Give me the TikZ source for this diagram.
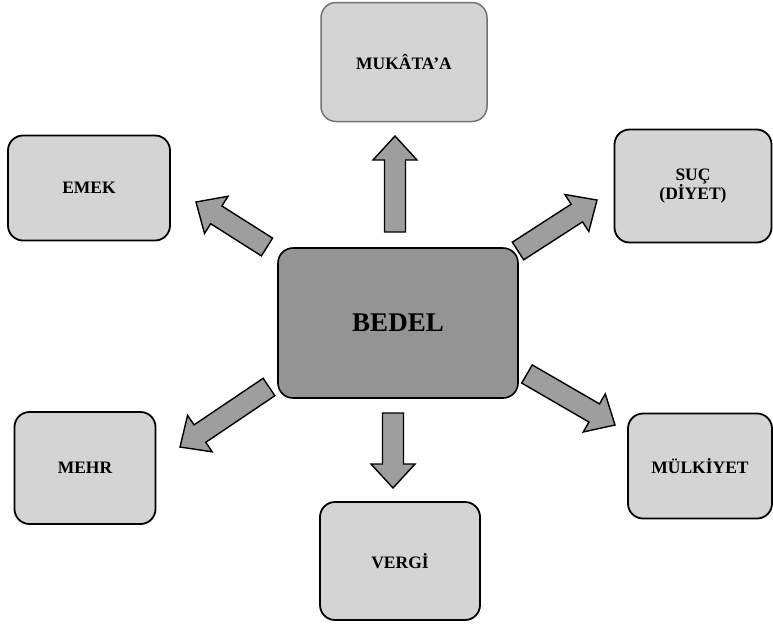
\documentclass[tikz,border=0pt]{standalone}
\usepackage{fontspec}
\setmainfont{Liberation Serif}
\usetikzlibrary{calc}
\def\blockarrow(#1)(#2){\coordinate (ah) at ($(#2)!24pt!(#1)$);
	\draw[blockarrow] ($(#1)!10.5pt!90:(#2)$) -- ($(ah)!10.5pt!90:(#2)$) -- ($(ah)!22pt!90:(#2)$) -- (#2) -- ($(ah)!22pt!-90:(#2)$) -- ($(ah)!10.5pt!-90:(#2)$) -- ($(#1)!10.5pt!-90:(#2)$) -- cycle;}
\tikzset{
	box/.style={draw=black, line width=1.8pt, rounded corners=15pt, fill=black!17, inner sep=0pt, align=center, font=\fontsize{17.5}{19}\selectfont\bfseries},
	mainbox/.style={box, fill=black!42, line width=1.6pt, font=\fontsize{27}{30}\selectfont\bfseries},
	blockarrow/.style={draw=black, line width=1.4pt, fill=black!38, line join=miter}
}
\begin{document}
\begin{tikzpicture}[x=1pt, y=-1pt]
			%%%%% START %%%%%
			\useasboundingbox (0,0) rectangle (773,627);
			
			\node[mainbox, minimum width=240pt, minimum height=150pt] (bedel) at (398, 323) {BEDEL};
			
			\node[box, draw=black!55, line width=1.5pt, minimum width=166pt, minimum height=119pt] (mukataa) at (404, 62) {MUKÂTA'A};
			\node[box, minimum width=162pt, minimum height=105pt] (emek) at (89, 188) {EMEK};
			\node[box, minimum width=157pt, minimum height=113pt] (suc) at (693, 186) {SUÇ\\(DİYET)};
			\node[box, minimum width=141pt, minimum height=112pt] (mehr) at (85, 468) {MEHR};
			\node[box, minimum width=144pt, minimum height=105pt] (mulkiyet) at (700, 466) {MÜLKİYET};
			\node[box, minimum width=160pt, minimum height=118pt] (vergi) at (400, 561) {VERGİ};
			
			% arrow ends
			\coordinate (mukataa-tail) at (395, 232);
			\coordinate (mukataa-tip) at (395, 136);
			\coordinate (emek-tail) at (267, 247);
			\coordinate (emek-tip) at (196, 202);
			\coordinate (suc-tail) at (518, 251);
			\coordinate (suc-tip) at (597, 200);
			\coordinate (mehr-tail) at (269, 387);
			\coordinate (mehr-tip) at (180, 447);
			\coordinate (mulkiyet-tail) at (527, 374);
			\coordinate (mulkiyet-tip) at (615, 425);
			\coordinate (vergi-tail) at (393, 413);
			\coordinate (vergi-tip) at (393, 488);
			
			\blockarrow(mukataa-tail)(mukataa-tip)
			\blockarrow(emek-tail)(emek-tip)
			\blockarrow(suc-tail)(suc-tip)
			\blockarrow(mehr-tail)(mehr-tip)
			\blockarrow(mulkiyet-tail)(mulkiyet-tip)
			\blockarrow(vergi-tail)(vergi-tip)
			
			%%%%% END %%%%%
\end{tikzpicture}
\end{document}
